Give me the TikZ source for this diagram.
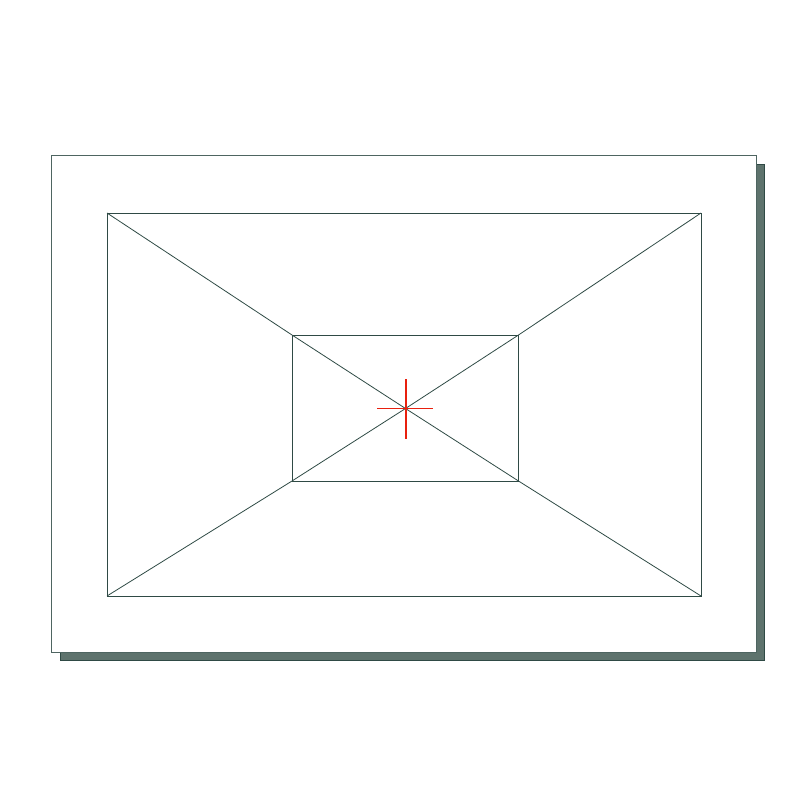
\documentclass[tikz,border=0pt]{standalone}
\begin{document}
\begin{tikzpicture}[x=0.0375cm,y=-0.0375cm,
  frameline/.style={draw=linecol,line width=0.85pt},
  crossbar/.style={fill=crosscol,draw=none}]
\definecolor{linecol}{HTML}{2F4A45}
\definecolor{shadowcol}{HTML}{5E736D}
\definecolor{crosscol}{HTML}{E8200E}
\useasboundingbox (0,0) rectangle (800,800);
% shadow and outer sheet
\fill[shadowcol,draw=linecol,line width=0.5pt] (60,164) rectangle (764,660);
\fill[white] (51,155) rectangle (756,652);
\draw[draw=linecol!85!white,line width=0.8pt] (51,155) rectangle (756,652);
% inner frame
\coordinate (A1) at (107,213);
\coordinate (A2) at (701,213);
\coordinate (A3) at (701,596);
\coordinate (A4) at (107,596);
\coordinate (B1) at (292,335);
\coordinate (B2) at (518.5,335);
\coordinate (B3) at (518.5,481);
\coordinate (B4) at (292,481);
\coordinate (C) at (405.5,408.5);
\draw[frameline] (A1) -- (A2) -- (A3) -- (A4) -- cycle;
\draw[frameline] (B1) -- (B2) -- (B3) -- (B4) -- cycle;
\draw[frameline] (A1) -- (B1) -- (C) -- (B3) -- (A3);
\draw[frameline] (A2) -- (B2) -- (C) -- (B4) -- (A4);
% red cross
\path[crossbar] (377,407.6) rectangle (433,409.4);
\path[crossbar] (404.5,379) rectangle (406.5,439);
\end{tikzpicture}
\end{document}
